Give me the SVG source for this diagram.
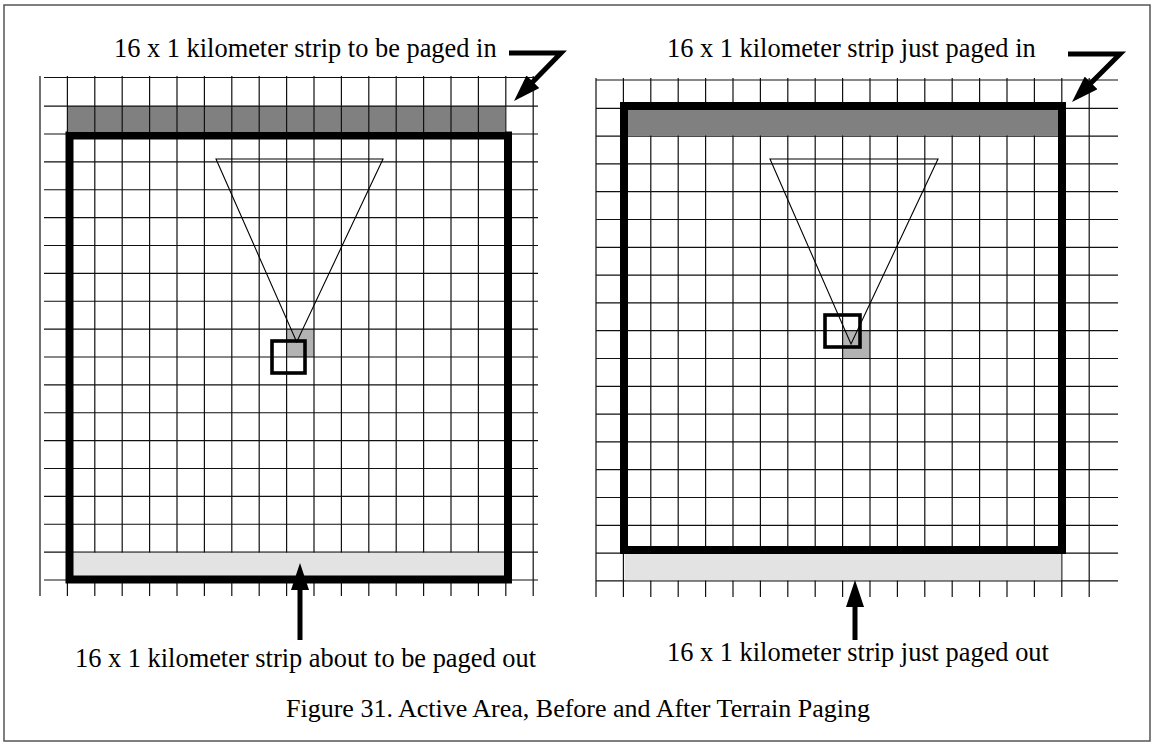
<svg xmlns="http://www.w3.org/2000/svg" width="1156" height="746" viewBox="0 0 1156 746">
<style>
.grid{fill:none;stroke:#111;stroke-width:1.2}
.thick{fill:none;stroke:#000;stroke-width:8}
.sq{fill:none;stroke:#000;stroke-width:3.6}
.tri{fill:none;stroke:#000;stroke-width:1.1}
.dark{fill:#808080}
.light{fill:#e3e3e3}
.cell{fill:#b3b3b3}
.lbl{font-family:"Liberation Serif","Times New Roman",serif;font-size:26.4px;fill:#000}
.arrow{fill:none;stroke:#000;stroke-width:5;stroke-linejoin:miter}
</style>
<defs>
<marker id="ah" viewBox="0 0 27 18" markerWidth="27" markerHeight="18" refX="9" refY="9" orient="auto" markerUnits="userSpaceOnUse">
<path d="M0,0 L27,9 L0,18 z" fill="#000"/>
</marker>
</defs>
<rect x="4" y="5" width="1146" height="736" fill="#fff" stroke="#555" stroke-width="1.5"/>

<g id="left-area">
<rect class="dark" x="68" y="106" width="437" height="25"/>
<rect class="cell" x="286.6" y="329.1" width="27.4" height="27.9"/>
<path class="grid" d="M40,76V596M67.4,76V596M94.8,76V596M122.2,76V596M149.6,76V596M177,76V596M204.4,76V596M231.8,76V596M259.2,76V596M286.6,76V596M314,76V596M341.4,76V596M368.8,76V596M396.2,76V596M423.6,76V596M451,76V596M478.4,76V596M505.8,76V596M533.2,76V596"/>
<path class="grid" d="M44,77.5H538M44,106.1H538M44,134H538M44,161.9H538M44,189.75H538M44,217.6H538M44,245.5H538M44,273.4H538M44,301.25H538M44,329.1H538M44,357H538M44,384.9H538M44,412.75H538M44,440.6H538M44,468.5H538M44,496.4H538M44,524.25H538M44,552.1H538M44,580H538"/>
<rect class="light" x="73" y="552.8" width="432" height="23.5"/>
<rect class="thick" x="69.5" y="135.5" width="438.5" height="444"/>
<polygon class="tri" points="216,159 383,159 296.7,342"/>
<rect class="sq" x="272" y="341" width="33" height="32"/>
</g>

<g id="right-area">
<rect class="cell" x="842.6" y="330.7" width="27.4" height="27.8"/>
<path class="grid" d="M596,78V597M623.4,78V597M650.8,78V597M678.2,78V597M705.6,78V597M733,78V597M760.4,78V597M787.8,78V597M815.2,78V597M842.6,78V597M870,78V597M897.4,78V597M924.8,78V597M952.2,78V597M979.6,78V597M1007,78V597M1034.4,78V597M1061.8,78V597M1089.2,78V597"/>
<path class="grid" d="M596,80H1118M596,108.3H1118M596,136.1H1118M596,163.9H1118M596,191.7H1118M596,219.5H1118M596,247.3H1118M596,275.1H1118M596,302.9H1118M596,330.7H1118M596,358.5H1118M596,386.3H1118M596,414.1H1118M596,441.9H1118M596,469.7H1118M596,497.5H1118M596,525.3H1118M596,553.1H1118M596,580.9H1118"/>
<rect class="dark" x="628" y="110" width="430" height="25.5"/>
<rect class="light" x="624.6" y="554" width="436.6" height="26.3"/>
<rect class="thick" x="624" y="106" width="438" height="444"/>
<polygon class="tri" points="770,159 938,159 851,344"/>
<rect class="sq" x="825" y="315" width="35" height="32"/>
</g>

<g id="connectors">
<polyline class="arrow" points="509,53 561,53 526.6,88.2" marker-end="url(#ah)"/>
<polyline class="arrow" points="1068,54 1120,54 1084.7,89.3" marker-end="url(#ah)"/>
<line class="arrow" x1="300" y1="640" x2="300" y2="581" marker-end="url(#ah)"/>
<line class="arrow" x1="855" y1="640" x2="855" y2="598" marker-end="url(#ah)"/>
</g>

<g id="labels">
<text class="lbl" x="114" y="57">16 x 1 kilometer strip to be paged in</text>
<text class="lbl" x="667" y="57">16 x 1 kilometer strip just paged in</text>
<text class="lbl" x="75" y="667">16 x 1 kilometer strip about to be paged out</text>
<text class="lbl" x="667" y="661">16 x 1 kilometer strip just paged out</text>
<text class="lbl" x="578" y="717" text-anchor="middle" style="font-size:26px">Figure 31. Active Area, Before and After Terrain Paging</text>
</g>
</svg>
